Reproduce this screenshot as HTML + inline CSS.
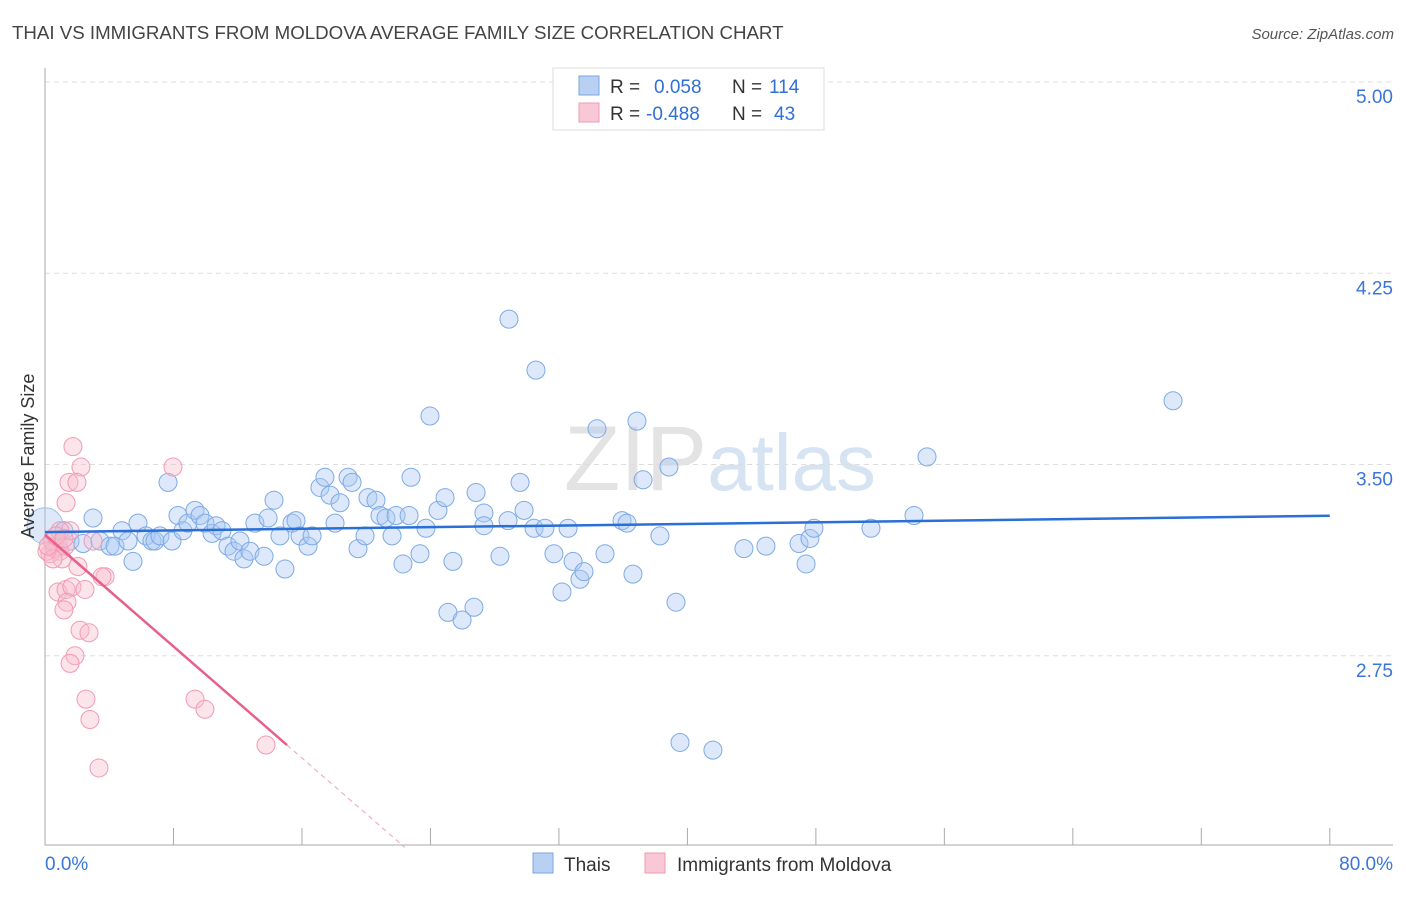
<!DOCTYPE html>
<html><head><meta charset="utf-8"><style>
body{margin:0;background:#fff;font-family:"Liberation Sans",sans-serif}
svg text{font-family:"Liberation Sans",sans-serif}
</style></head><body>
<svg id="chart" width="1406" height="892" xmlns="http://www.w3.org/2000/svg">
<text x="12" y="39" font-size="18.7" fill="#444">THAI VS IMMIGRANTS FROM MOLDOVA AVERAGE FAMILY SIZE CORRELATION CHART</text>
<text x="1394" y="39" font-size="15" fill="#555" text-anchor="end" font-style="italic">Source: ZipAtlas.com</text>
<text x="720" y="490" font-size="92" text-anchor="middle" fill="#e3e3e3" font-family="Liberation Serif">ZIP<tspan fill="#d6e3f3" font-family="Liberation Sans" font-size="80">atlas</tspan></text>
<g id="grid"></g><g id="axes"></g><g id="marks"></g>
<text transform="translate(34,456) rotate(-90)" font-size="18" fill="#333" text-anchor="middle">Average Family Size</text>
<g>
<rect x="553" y="68" width="271" height="62" fill="#fff" stroke="#ddd"/>
<rect x="579" y="76" width="20" height="19" fill="#b8d0f2" stroke="#7aa7e2"/>
<rect x="579" y="103" width="20" height="19" fill="#f8c8d6" stroke="#f09ab4"/>
<text x="610" y="93" font-size="19" fill="#333">R = <tspan fill="#2f6fd6" x="654">0.058</tspan><tspan x="732" fill="#333">N =</tspan><tspan x="769" fill="#2f6fd6">114</tspan></text>
<text x="610" y="120" font-size="19" fill="#333">R = <tspan fill="#2f6fd6" x="646">-0.488</tspan><tspan x="732" fill="#333">N =</tspan><tspan x="774" fill="#2f6fd6">43</tspan></text>
</g>
<g>
<rect x="533" y="853" width="20" height="20" fill="#b8d0f2" stroke="#7aa7e2"/>
<text x="564" y="871" font-size="19" fill="#333">Thais</text>
<rect x="645" y="853" width="20" height="20" fill="#f8c8d6" stroke="#f09ab4"/>
<text x="677" y="871" font-size="19" fill="#333">Immigrants from Moldova</text>
</g>
</svg>
<script>
const yTicks=[5.00,4.25,3.50,2.75];
const xTickLabels=["0.0%","80.0%"];
const thaiX=[0.0,2.99,1.18,1.56,2.37,3.42,4.05,4.36,4.79,5.17,5.48,5.79,6.29,6.66,6.85,7.16,7.66,7.91,8.28,8.59,8.90,9.34,9.65,9.96,10.40,10.65,11.02,11.39,11.77,12.14,12.39,12.76,13.07,13.64,13.89,14.26,14.63,14.94,15.38,15.63,15.88,16.38,16.63,17.12,17.43,17.75,18.06,18.37,18.87,19.12,19.49,19.93,20.11,20.61,20.86,21.23,21.61,21.86,22.29,22.67,22.79,23.35,23.72,23.97,24.47,24.91,25.09,25.40,25.97,26.71,26.84,27.33,27.33,28.33,28.83,28.89,29.58,29.83,30.45,30.57,31.13,31.69,32.19,32.57,32.88,33.31,33.56,34.37,34.87,35.93,36.24,36.61,36.86,37.24,38.29,38.85,39.29,39.54,41.59,43.52,44.89,46.95,47.39,47.63,47.88,51.43,54.11,54.92,70.24];
const thaiY=[3.26,3.29,3.24,3.20,3.19,3.20,3.18,3.18,3.24,3.20,3.12,3.27,3.22,3.20,3.20,3.22,3.43,3.20,3.30,3.24,3.27,3.32,3.30,3.27,3.23,3.26,3.24,3.18,3.16,3.20,3.13,3.16,3.27,3.14,3.29,3.36,3.22,3.09,3.27,3.28,3.22,3.18,3.22,3.41,3.45,3.38,3.27,3.35,3.45,3.43,3.17,3.22,3.37,3.36,3.30,3.29,3.22,3.30,3.11,3.30,3.45,3.15,3.25,3.69,3.32,3.37,2.92,3.12,2.89,2.94,3.39,3.31,3.26,3.14,3.28,4.07,3.43,3.32,3.25,3.87,3.25,3.15,3.00,3.25,3.12,3.05,3.08,3.64,3.15,3.28,3.27,3.07,3.67,3.44,3.22,3.49,2.96,2.41,2.38,3.17,3.18,3.19,3.11,3.21,3.25,3.25,3.30,3.53,3.75];
const molX=[1.74,2.24,1.49,1.99,1.31,7.97,0.31,0.62,0.81,0.93,0.44,1.06,1.25,1.56,0.93,2.05,2.99,3.74,3.55,0.81,1.31,1.68,2.49,1.37,1.18,2.18,2.74,1.87,1.56,2.55,2.80,3.36,9.34,9.96,13.76,0.12,0.50,0.19,0.68,1.18];
const molY=[3.57,3.49,3.43,3.43,3.35,3.49,3.15,3.17,3.18,3.16,3.20,3.13,3.18,3.24,3.24,3.10,3.20,3.06,3.06,3.00,3.01,3.02,3.01,2.96,2.93,2.85,2.84,2.75,2.72,2.58,2.50,2.31,2.58,2.54,2.40,3.16,3.13,3.18,3.22,3.21];
const thaiTrend=[3.235,0.0008];
const molTrend=[3.224,-0.0547];
const NS="http://www.w3.org/2000/svg";
const X=p=>45+p*16.06, Y=v=>82+(5-v)*255;
function mk(parent,tag,at){const e=document.createElementNS(NS,tag);for(const k in at)e.setAttribute(k,at[k]);document.getElementById(parent).appendChild(e);return e;}
yTicks.forEach(t=>{
 const g=mk('grid','line',{x1:45,x2:1393,y1:Y(t),y2:Y(t),stroke:'#ddd','stroke-dasharray':'5,4'});
 
 
 const l=mk('grid','text',{x:1393,y:Y(t)+21,'font-size':19,fill:'#3a76d8','text-anchor':'end'});
 l.textContent=t.toFixed(2);
 
 
});
const ax=mk('axes','path',{d:'M45,68V845H1393',stroke:'#aaa',fill:'none'});


for(let i=0;i<=10;i++){const t=mk('axes','line',{x1:X(i*8),x2:X(i*8),y1:828,y2:845,stroke:'#aaa'});
 
 }
[[0,'start',45],[80,'end',1393]].forEach((d,i)=>{const t=mk('axes','text',{x:d[2],y:870,'font-size':19,fill:'#3a76d8','text-anchor':d[1]});t.textContent=xTickLabels[i];
 
 });
const big=mk('marks','circle',{cx:X(thaiX[0]),cy:Y(thaiY[0]),r:18,fill:'rgba(170,198,238,0.4)',stroke:'#a5c2ea'});


thaiX.forEach((x,i)=>{if(i===0)return;const c=mk('marks','circle',{cx:X(x),cy:Y(thaiY[i]),r:9,fill:'rgba(170,200,242,0.4)',stroke:'#7eaae4','stroke-width':1});
 
 });
molX.forEach((x,i)=>{const c=mk('marks','circle',{cx:X(x),cy:Y(molY[i]),r:9,fill:'rgba(248,188,206,0.4)',stroke:'#f29ab6','stroke-width':1});
 
 });
const tl=mk('marks','line',{x1:X(0),y1:Y(thaiTrend[0]),x2:X(80),y2:Y(thaiTrend[0]+80*thaiTrend[1]),stroke:'#2a6fd6','stroke-width':2.5});


const ml=mk('marks','line',{x1:X(0),y1:Y(molTrend[0]),x2:X(15.07),y2:Y(molTrend[0]+15.07*molTrend[1]),stroke:'#e8608a','stroke-width':2.5});


const md=mk('marks','line',{x1:X(15.07),y1:Y(molTrend[0]+15.07*molTrend[1]),x2:X(22.4),y2:Y(molTrend[0]+22.4*molTrend[1]),stroke:'#f0a0b8','stroke-width':1,'stroke-dasharray':'5,4'});


</script>
</body></html>
